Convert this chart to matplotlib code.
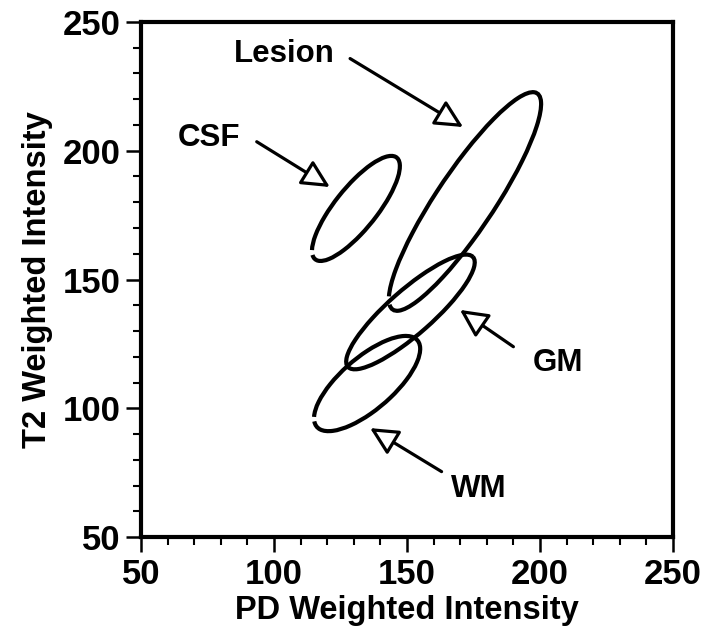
import matplotlib.pyplot as plt
from matplotlib.patches import Arc
from matplotlib.ticker import MultipleLocator

plt.rcParams['font.family'] = ['Liberation Sans', 'DejaVu Sans']
plt.rcParams['font.weight'] = 'bold'

# tissue classes (ellipses in PD / T2 feature space)
regions = ['CSF', 'Lesion', 'GM', 'WM']
center_pd = [130.8, 171.8, 151.3, 135.0]
center_t2 = [177.6, 180.3, 137.4, 109.6]
axis_long = [50.0, 100.0, 63.5, 50.6]
axis_short = [16.0, 22.0, 17.0, 20.0]
tilt_deg = [52.4, 57.2, 42.3, 42.0]
# small break in the outline (start, end, in degrees of the ellipse)
gap_from = [172, 175, None, 171]
gap_to = [175.5, 177.5, None, 174.5]

# label text position and arrow tip (data units)
label_pd = [75.6, 103.8, 206.8, 177.0]
label_t2 = [205.0, 237.6, 117.6, 68.6]
tail_pd = [93.5, 128.6, 190.0, 163.0]
tail_t2 = [203.5, 235.8, 123.9, 75.4]
tip_pd = [121.0, 171.1, 169.9, 136.1]
tip_t2 = [185.9, 209.2, 138.2, 92.3]

fig = plt.figure(figsize=(7.17, 6.41), dpi=100)
ax = fig.add_axes([0.1967, 0.1622, 0.7419, 0.8035])

for i, name in enumerate(regions):
    if gap_from[i] is None:
        t1, t2 = 0, 360
    else:
        t1, t2 = gap_to[i], gap_from[i] + 360
    ax.add_patch(Arc((center_pd[i], center_t2[i]), axis_long[i], axis_short[i],
                     angle=tilt_deg[i], theta1=t1, theta2=t2,
                     color='black', lw=3.0))
    ax.annotate('', xy=(tip_pd[i], tip_t2[i]), xytext=(tail_pd[i], tail_t2[i]),
                arrowprops=dict(arrowstyle='-|>,head_length=0.85,head_width=0.42',
                                mutation_scale=20, facecolor='white',
                                edgecolor='black', lw=2.3, shrinkA=0, shrinkB=0))
    ax.text(label_pd[i], label_t2[i], name, fontsize=22.5, fontweight='bold',
            ha='center', va='center')

ax.set_xlim(50, 250)
ax.set_ylim(50, 250)
ax.xaxis.set_major_locator(MultipleLocator(50))
ax.yaxis.set_major_locator(MultipleLocator(50))
ax.xaxis.set_minor_locator(MultipleLocator(10))
ax.yaxis.set_minor_locator(MultipleLocator(10))
ax.tick_params(which='major', direction='out', length=11, width=1.8,
               labelsize=25, pad=4)
ax.tick_params(which='minor', direction='out', length=5.5, width=1.5)
for lab in ax.get_xticklabels() + ax.get_yticklabels():
    lab.set_fontweight('bold')
for sp in ax.spines.values():
    sp.set_linewidth(3)

ax.set_xlabel('PD Weighted Intensity', fontsize=23.5, fontweight='bold', labelpad=3)
ax.set_ylabel('T2 Weighted Intensity', fontsize=23.5, fontweight='bold', labelpad=7)

plt.savefig('out.png', dpi=100)
